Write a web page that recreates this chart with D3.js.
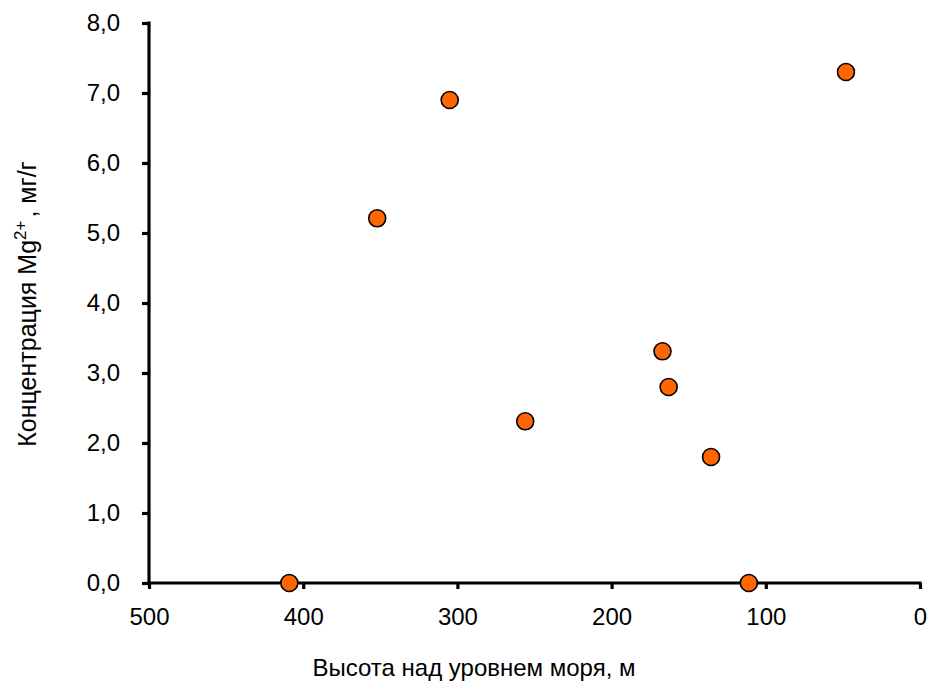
<!DOCTYPE html>
<html><head><meta charset="utf-8">
<script src="https://cdn.jsdelivr.net/npm/d3@7"></script>
<style>body{margin:0;background:#fff}svg{display:block}text{font-family:"Liberation Sans",Arial,sans-serif;fill:#000}</style>
</head><body>
<svg id="c" width="930" height="687"></svg>
<script>
const altitude = [409, 111, 48, 305, 352, 256, 167, 163, 135.5];
const mgConc = [0, 0, 7.3, 6.9, 5.21, 2.31, 3.31, 2.8, 1.8];
const xTicks = [500, 400, 300, 200, 100, 0];
const yTicks = [0, 1, 2, 3, 4, 5, 6, 7, 8];

const svg = d3.select("#c");
const x = d3.scaleLinear().domain([500, 0]).range([149, 920]);
const y = d3.scaleLinear().domain([0, 8]).range([583, 23]);
const fmt = d => d3.format(".1f")(d).replace(".", ",");

const xAxis = svg.append("g").attr("transform", "translate(0,583)")
  .call(d3.axisBottom(x).tickValues(xTicks).tickSize(6).tickSizeOuter(0).tickPadding(19).tickFormat(d3.format("d")));
const yAxis = svg.append("g").attr("transform", "translate(149,0)")
  .call(d3.axisLeft(y).tickValues(yTicks).tickSize(7).tickSizeOuter(0).tickPadding(22).tickFormat(fmt));
[xAxis, yAxis].forEach(a => {
  a.select(".domain").attr("stroke", "#000").attr("stroke-width", 3.2);
  a.selectAll(".tick line").attr("stroke", "#000").attr("stroke-width", 3.2);
  a.selectAll(".tick text").attr("font-size", 24).attr("font-family", "Liberation Sans, Arial, sans-serif").attr("fill", "#000");
});
xAxis.select(".domain").attr("d", `M${x(500)-1.6},0H${x(0)+1.6}`);
yAxis.select(".domain").attr("d", `M0,${y(8)-1.6}V${y(0)+1.6}`);

svg.append("g").selectAll("circle").data(altitude.map((a, i) => [a, mgConc[i]])).join("circle")
  .attr("cx", d => x(d[0])).attr("cy", d => y(d[1])).attr("r", 8.5)
  .attr("fill", "#FF6600").attr("stroke", "#000").attr("stroke-width", 1.6);

svg.append("text").attr("x", 474).attr("y", 676).attr("text-anchor", "middle").attr("font-size", 24)
  .text("Высота над уровнем моря, м");

const yt = svg.append("text").attr("transform", "translate(36,304) rotate(-90)").attr("text-anchor", "middle").attr("font-size", 25);
yt.append("tspan").text("Концентрация Mg");
yt.append("tspan").attr("font-size", 17).attr("dy", -10).text("2+");
yt.append("tspan").attr("dy", 10).attr("dx", 3).text(", мг/г");
</script>
</body></html>
